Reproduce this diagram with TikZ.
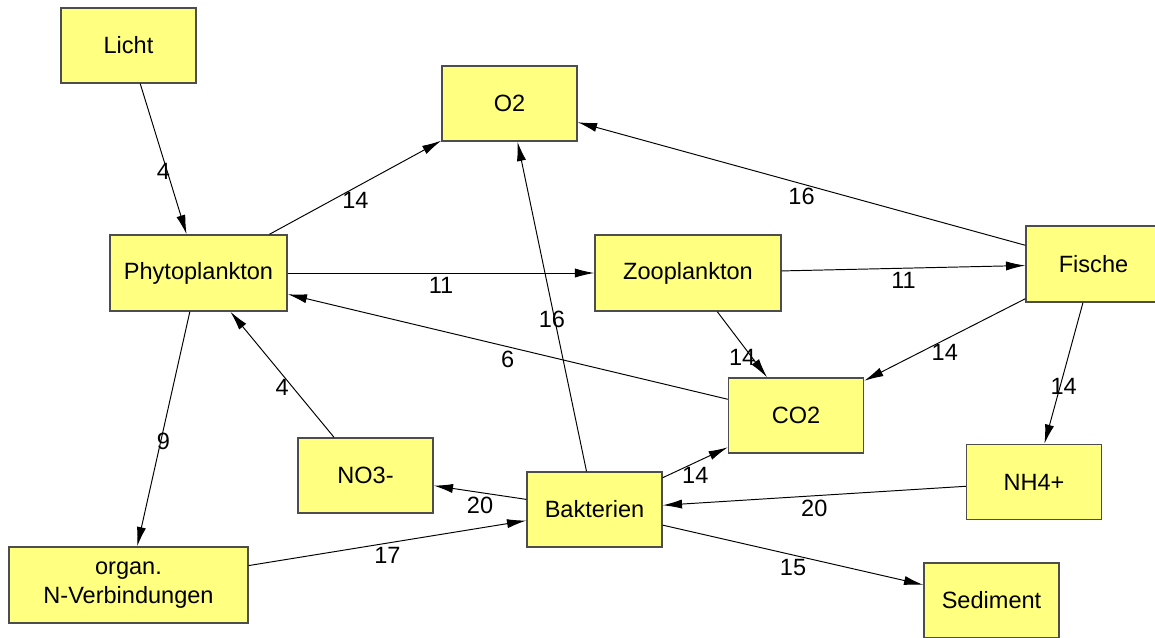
\documentclass[tikz,border=0pt]{standalone}
\usepackage{fontspec}
\setmainfont{Liberation Sans}
\usetikzlibrary{arrows.meta}
\definecolor{kastengelb}{HTML}{FFFF80}
\definecolor{rahmen}{HTML}{4D4D4D}
\tikzset{
  kasten/.style={draw=rahmen, line width=.8pt, fill=kastengelb, inner sep=0pt,
    minimum width=2.7cm, minimum height=1.5cm, align=center,
    font=\fontsize{13.4}{16.5}\selectfont},
  fluss/.style={-{Latex[length=11pt,width=5.2pt]}, line width=.55pt},
  wert/.style={yshift=-7.2pt, inner sep=0pt, font=\fontsize{13.4}{16}\selectfont},
}

\begin{document}
\begin{tikzpicture}[x=0.02cm,y=-0.02cm]
  \useasboundingbox (0,0) rectangle (1155,637);

  % Kästen der Komponenten im Gewässer.
  \node[kasten] (licht) at (128.5,45.5) {Licht};
  \node[kasten] (o2) at (509.5,103.5) {O2};
  \node[kasten, minimum width=3.54cm, minimum height=1.52cm] (phyto) at (198.5,273) {Phytoplankton};
  \node[kasten, minimum width=3.72cm, minimum height=1.52cm] (zoo) at (688,273) {Zooplankton};
  \node[kasten, minimum height=1.52cm] (fische) at (1093.5,264) {Fische};
  \node[kasten] (co2) at (796,415.5) {CO2};
  \node[kasten] (no3) at (365.5,475.5) {NO3-};
  \node[kasten] (bakt) at (594.5,509.5) {Bakterien};
  \node[kasten] (nh4) at (1034,482) {NH4+};
  \node[kasten, minimum width=4.78cm, minimum height=1.52cm] (orgn) at (128.5,585) {organ.\\N-Verbindungen};
  \node[kasten] (sediment) at (991.5,600.5) {Sediment};

  % Stoffflüsse mit ihren Werten.
  \draw[fluss] (licht) -- node[wert] {4} (phyto);
  \draw[fluss] (phyto) -- node[wert] {14} (o2);
  \draw[fluss] (phyto) -- node[wert] {11} (zoo);
  \draw[fluss] (co2) -- node[wert] {6} (phyto);
  \draw[fluss] (no3) -- node[wert] {4} (phyto);
  \draw[fluss] (phyto) -- node[wert] {9} (orgn);
  \draw[fluss] (bakt) -- node[wert] {16} (o2);
  \draw[fluss] (fische) -- node[wert] {16} (o2);
  \draw[fluss] (zoo) -- node[wert] {11} (fische);
  \draw[fluss] (zoo) -- node[wert] {14} (co2);
  \draw[fluss] (fische) -- node[wert] {14} (co2);
  \draw[fluss] (fische) -- node[wert] {14} (nh4);
  \draw[fluss] (bakt) -- node[wert] {14} (co2);
  \draw[fluss] (bakt) -- node[wert] {20} (no3);
  \draw[fluss] (orgn) -- node[wert] {17} (bakt);
  \draw[fluss] (nh4) -- node[wert] {20} (bakt);
  \draw[fluss] (bakt) -- node[wert] {15} (sediment);
\end{tikzpicture}
\end{document}
